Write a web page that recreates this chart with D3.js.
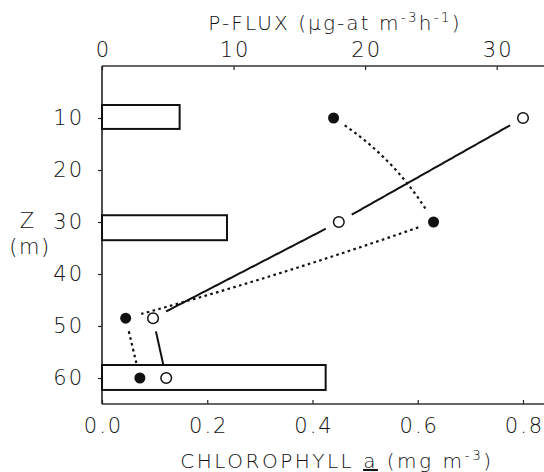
<!DOCTYPE html>
<html>
<head>
<meta charset="utf-8">
<script src="https://cdn.jsdelivr.net/npm/d3@7"></script>
<style>
  body { margin: 0; background: #fff; }
  svg text { font-family: "DejaVu Sans", "Liberation Sans", sans-serif; font-weight: 200; fill: #111; }
</style>
</head>
<body>
<div id="d3"></div>
<script>
// P-flux bars (upper axis)
const fluxValues = [5.9, 9.5, 17.0];
const fluxDepthTop = [7.5, 28.7, 57.5];
const fluxDepthBottom = [12.1, 33.5, 62.3];

// chlorophyll profiles (lower axis)
const filledDepths = [10, 30, 48.5, 60];
const filledChl = [0.44, 0.63, 0.045, 0.072];
const openDepths = [10, 30, 48.5, 60];
const openChl = [0.80, 0.45, 0.097, 0.122];

const fluxTicks = [0, 10, 20, 30];
const chlTicks = [0, 0.2, 0.4, 0.6, 0.8];
const depthTicks = [10, 20, 30, 40, 50, 60];

const width = 544;
const height = 472;
const margin = { top: 66, bottom: 68, left: 102, right: 21 };

const svg = d3
  .select("#d3")
  .append("svg")
  .attr("width", width)
  .attr("height", height);

const x = d3.scaleLinear().domain([0, 0.8]).range([margin.left, width - margin.right]);
const xFlux = d3.scaleLinear().domain([0, 32]).range([margin.left, width - margin.right]);
const y = d3.scaleLinear().domain([0, 65]).range([margin.top, height - margin.bottom]);

// axes
const topAxis = svg
  .append("g")
  .attr("transform", `translate(0,${margin.top})`)
  .call(d3.axisTop(xFlux).tickValues(fluxTicks).tickSize(-4).tickPadding(9).tickFormat(d3.format("d")));
const bottomAxis = svg
  .append("g")
  .attr("transform", `translate(0,${height - margin.bottom})`)
  .call(d3.axisBottom(x).tickValues(chlTicks).tickSize(-4).tickPadding(14).tickFormat(d3.format(".1f")));
const leftAxis = svg
  .append("g")
  .attr("transform", `translate(${margin.left},0)`)
  .call(d3.axisLeft(y).tickValues(depthTicks).tickSize(4).tickPadding(14));

[topAxis, bottomAxis, leftAxis].forEach((g) => {
  g.select(".domain").remove();
  g.selectAll("line").attr("stroke", "#222").attr("stroke-width", 1.2);
  g.selectAll("text")
    .style("font-size", "21px")
    .style("letter-spacing", "2px")
    .attr("fill", "#111");
});
// letter-spacing trails the last glyph, nudge centred labels back
topAxis.selectAll("text").attr("dx", 1);
bottomAxis.selectAll("text").attr("dx", 1);

svg.append("line")
  .attr("x1", margin.left).attr("x2", width)
  .attr("y1", margin.top).attr("y2", margin.top)
  .attr("stroke", "#333").attr("stroke-width", 1.4);
svg.append("line")
  .attr("x1", margin.left).attr("x2", width)
  .attr("y1", height - margin.bottom).attr("y2", height - margin.bottom)
  .attr("stroke", "#333").attr("stroke-width", 1.4);
svg.append("line")
  .attr("x1", margin.left).attr("x2", margin.left)
  .attr("y1", margin.top).attr("y2", height - margin.bottom)
  .attr("stroke", "#222").attr("stroke-width", 1.6);

// flux bars
svg.selectAll("rect.flux")
  .data(fluxValues)
  .enter()
  .append("rect")
  .attr("class", "flux")
  .attr("x", xFlux(0))
  .attr("y", (d, i) => y(fluxDepthTop[i]))
  .attr("width", (d) => xFlux(d) - xFlux(0))
  .attr("height", (d, i) => y(fluxDepthBottom[i]) - y(fluxDepthTop[i]))
  .attr("fill", "#fff")
  .attr("stroke", "#111")
  .attr("stroke-width", 2);

// profile lines, broken short of every marker
const gap = 13;
const line = d3.line();

function segmentPoints(a, b, bow) {
  const dx = b[0] - a[0], dy = b[1] - a[1];
  const len = Math.hypot(dx, dy);
  const c = [(a[0] + b[0]) / 2 + (dy / len) * bow, (a[1] + b[1]) / 2 - (dx / len) * bow];
  const pts = [];
  for (let t = 0; t <= 1.0001; t += 0.01) {
    const u = 1 - t;
    pts.push([u * u * a[0] + 2 * u * t * c[0] + t * t * b[0], u * u * a[1] + 2 * u * t * c[1] + t * t * b[1]]);
  }
  return pts.filter((p) => Math.hypot(p[0] - a[0], p[1] - a[1]) > gap && Math.hypot(p[0] - b[0], p[1] - b[1]) > gap);
}

function drawProfile(depths, chl, bows, dash) {
  const pts = depths.map((d, i) => [x(chl[i]), y(d)]);
  for (let i = 0; i < pts.length - 1; i++) {
    svg.append("path")
      .attr("d", line(segmentPoints(pts[i], pts[i + 1], bows[i])))
      .attr("fill", "none")
      .attr("stroke", "#111")
      .attr("stroke-width", dash ? 2.2 : 2)
      .attr("stroke-dasharray", dash ? "2.6,3.4" : null);
  }
  return pts;
}

const filledPts = drawProfile(filledDepths, filledChl, [18, 6, 0], true);
const openPts = drawProfile(openDepths, openChl, [0, 0, 0], false);

svg.selectAll("circle.filled")
  .data(filledPts)
  .enter()
  .append("circle")
  .attr("cx", (d) => d[0])
  .attr("cy", (d) => d[1])
  .attr("r", 5.5)
  .attr("fill", "#111");

svg.selectAll("circle.open")
  .data(openPts)
  .enter()
  .append("circle")
  .attr("cx", (d) => d[0])
  .attr("cy", (d) => d[1])
  .attr("r", 5.3)
  .attr("fill", "#fff")
  .attr("stroke", "#111")
  .attr("stroke-width", 1.5);

// titles
const topTitle = svg.append("text")
  .attr("x", 335).attr("y", 30)
  .attr("text-anchor", "middle")
  .style("font-size", "20px")
  .style("letter-spacing", "2.1px");
topTitle.append("tspan").text("P-FLUX (\u03bcg-at m");
topTitle.append("tspan").attr("dy", -8).style("font-size", "14px").text("-3");
topTitle.append("tspan").attr("dy", 8).text("h");
topTitle.append("tspan").attr("dy", -8).style("font-size", "14px").text("-1");
topTitle.append("tspan").attr("dy", 8).text(")");

const bottomTitle = svg.append("text")
  .attr("x", 337).attr("y", 468)
  .attr("text-anchor", "middle")
  .style("font-size", "20px")
  .style("letter-spacing", "2.5px");
bottomTitle.append("tspan").text("CHLOROPHYLL ");
bottomTitle.append("tspan").style("text-decoration", "underline").text("a");
bottomTitle.append("tspan").text(" (mg m");
bottomTitle.append("tspan").attr("dy", -8).style("font-size", "14px").text("-3");
bottomTitle.append("tspan").attr("dy", 8).text(")");

svg.append("text")
  .attr("x", 27).attr("y", 228)
  .attr("text-anchor", "middle")
  .style("font-size", "21px")
  .text("Z");
svg.append("text")
  .attr("x", 30).attr("y", 254)
  .attr("text-anchor", "middle")
  .style("font-size", "21px")
  .style("letter-spacing", "1.5px")
  .text("(m)");
</script>
</body>
</html>
